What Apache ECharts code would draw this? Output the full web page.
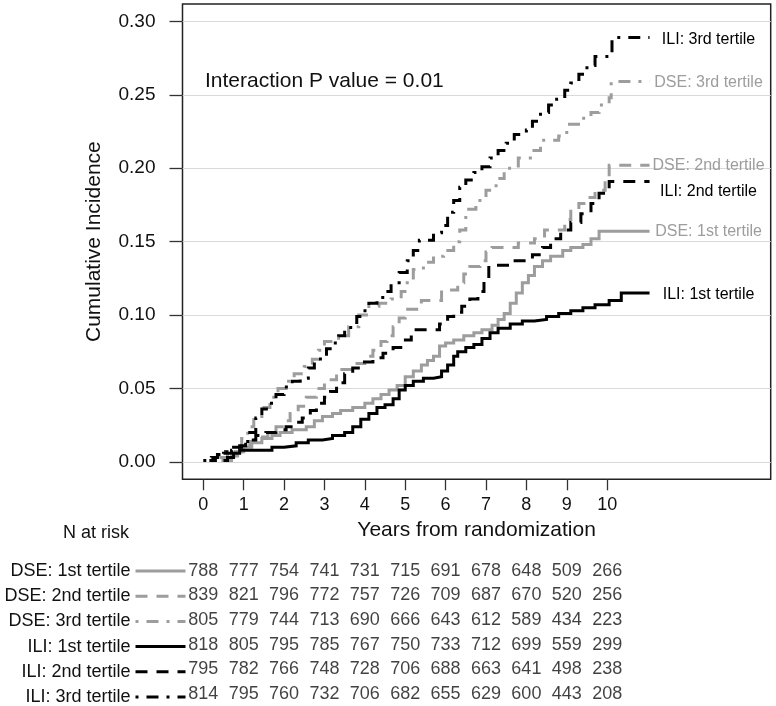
<!DOCTYPE html>
<html>
<head>
<meta charset="utf-8">
<script src="https://cdn.jsdelivr.net/npm/echarts@6/dist/echarts.min.js"></script>
<style>
html,body{margin:0;padding:0;background:#fff;}
#chart{width:776px;height:706px;}
</style>
</head>
<body>
<div id="chart"></div>
<script>
// ---- data ----
const seriesNames = ['DSE: 1st tertile','DSE: 2nd tertile','DSE: 3rd tertile','ILI: 1st tertile','ILI: 2nd tertile','ILI: 3rd tertile'];

const dse1T = [0.5,0.7,0.85,1.0,1.2,1.45,1.7,1.9,2.2,2.55,2.75,2.95,3.2,3.4,3.7,4.0,4.2,4.4,4.6,4.8,5.0,5.2,5.4,5.55,5.7,5.85,6.0,6.2,6.45,6.7,6.9,7.15,7.3,7.45,7.6,7.75,7.9,8.05,8.2,8.4,8.6,8.9,9.1,9.4,9.6,9.8,11.05];
const dse1V = [0.001,0.004,0.007,0.010,0.013,0.016,0.018,0.020,0.022,0.024,0.028,0.031,0.033,0.035,0.037,0.040,0.043,0.046,0.049,0.052,0.058,0.062,0.066,0.069,0.072,0.079,0.081,0.083,0.086,0.088,0.090,0.093,0.097,0.101,0.108,0.115,0.122,0.127,0.133,0.137,0.140,0.144,0.146,0.148,0.152,0.157,0.157];

const dse2T = [0.45,0.6,0.8,0.95,1.15,1.35,1.6,1.8,2.0,2.15,2.35,2.55,2.8,3.0,3.3,3.7,4.0,4.2,4.4,4.55,4.7,4.85,5.0,5.4,5.9,6.3,6.45,6.6,6.85,7.0,7.15,7.8,8.2,8.45,8.95,9.1,9.3,9.5,9.7,9.95,10.05,11.05];
const dse2V = [0.001,0.004,0.007,0.010,0.014,0.017,0.020,0.024,0.028,0.033,0.038,0.044,0.050,0.056,0.063,0.067,0.072,0.076,0.082,0.086,0.092,0.098,0.104,0.110,0.117,0.122,0.128,0.133,0.137,0.143,0.146,0.149,0.152,0.158,0.165,0.172,0.176,0.180,0.185,0.192,0.202,0.202];

const dse3T = [0.2,0.4,0.6,0.8,0.95,1.1,1.25,1.45,1.65,1.85,2.05,2.25,2.5,2.7,2.85,3.0,3.35,3.6,3.85,4.1,4.35,4.65,4.9,5.05,5.2,5.45,5.7,5.95,6.2,6.35,6.5,6.75,7.0,7.25,7.45,7.8,8.1,8.35,8.8,9.0,9.35,9.6,9.8,10.05,10.1,11.05];
const dse3V = [0.001,0.003,0.007,0.010,0.016,0.024,0.031,0.037,0.044,0.050,0.055,0.060,0.065,0.070,0.076,0.082,0.086,0.092,0.100,0.106,0.108,0.111,0.116,0.124,0.131,0.136,0.140,0.144,0.150,0.158,0.172,0.178,0.185,0.193,0.200,0.207,0.212,0.219,0.222,0.230,0.234,0.238,0.243,0.248,0.259,0.259];

const ili1T = [0.5,0.6,0.75,0.9,1.7,2.0,2.3,2.6,2.95,3.2,3.5,3.7,3.9,4.1,4.3,4.5,4.7,4.85,5.0,5.2,5.45,5.7,5.9,6.05,6.2,6.3,6.5,6.7,6.9,7.1,7.3,7.6,7.9,8.2,8.5,8.8,9.1,9.4,9.7,10.05,10.35,11.05];
const ili1V = [0.001,0.003,0.006,0.008,0.010,0.011,0.013,0.015,0.016,0.018,0.020,0.024,0.029,0.033,0.037,0.039,0.043,0.049,0.052,0.055,0.057,0.058,0.062,0.066,0.072,0.075,0.078,0.080,0.084,0.088,0.091,0.094,0.096,0.097,0.099,0.101,0.103,0.105,0.107,0.110,0.115,0.115];

const ili2T = [0.15,0.3,0.5,0.7,0.9,1.05,1.3,1.55,1.8,2.05,2.3,2.45,2.65,2.8,3.0,3.15,3.3,3.5,3.7,3.95,4.2,4.45,4.7,4.95,5.15,5.85,6.05,6.2,6.4,6.6,6.8,6.95,7.07,7.6,8.15,8.4,8.6,8.85,9.1,9.35,9.6,9.8,10.05,11.05];
const ili2V = [0.001,0.003,0.006,0.008,0.011,0.015,0.018,0.020,0.022,0.024,0.027,0.030,0.035,0.040,0.044,0.048,0.054,0.060,0.064,0.068,0.071,0.074,0.078,0.083,0.090,0.094,0.099,0.102,0.106,0.111,0.116,0.123,0.134,0.137,0.141,0.146,0.152,0.158,0.163,0.169,0.176,0.183,0.191,0.191];

const ili3T = [0.0,0.2,0.35,0.55,0.75,0.95,1.15,1.3,1.45,1.6,1.8,2.0,2.2,2.4,2.6,2.75,2.9,3.05,3.2,3.35,3.5,3.65,3.8,3.95,4.1,4.3,4.5,4.65,4.85,5.05,5.2,5.35,5.7,5.9,6.05,6.2,6.35,6.5,6.7,6.9,7.1,7.3,7.5,7.7,8.0,8.15,8.35,8.55,8.75,8.95,9.1,9.3,9.5,9.7,10.05,10.12,11.05];
const ili3V = [0.001,0.003,0.005,0.007,0.010,0.014,0.020,0.030,0.036,0.040,0.046,0.051,0.055,0.057,0.064,0.068,0.072,0.077,0.081,0.086,0.090,0.095,0.099,0.103,0.108,0.112,0.116,0.122,0.129,0.137,0.144,0.151,0.156,0.161,0.170,0.178,0.187,0.192,0.197,0.201,0.207,0.212,0.217,0.223,0.226,0.232,0.238,0.243,0.247,0.253,0.258,0.264,0.270,0.276,0.280,0.289,0.289];

const xTicks = [0,1,2,3,4,5,6,7,8,9,10];
const yTicks = [0,0.05,0.10,0.15,0.20,0.25,0.30];

// N at risk at years 0..10
const riskYears = [0,1,2,3,4,5,6,7,8,9,10];
const riskDse1 = [788,777,754,741,731,715,691,678,648,509,266];
const riskDse2 = [839,821,796,772,757,726,709,687,670,520,256];
const riskDse3 = [805,779,744,713,690,666,643,612,589,434,223];
const riskIli1 = [818,805,795,785,767,750,733,712,699,559,299];
const riskIli2 = [795,782,766,748,728,706,688,663,641,498,238];
const riskIli3 = [814,795,760,732,706,682,655,629,600,443,208];

// ---- styling ----
const FONT = 'Liberation Sans, Arial, sans-serif';
const GRAY = '#9d9d9d';
const BLACK = '#000';
const DASH = [12, 9];
const DOTDASH = [3, 8, 12, 8];

const curves = [
  {name: seriesNames[0], t: dse1T, v: dse1V, color: GRAY, type: 'solid', dy: 0},
  {name: seriesNames[1], t: dse2T, v: dse2V, color: GRAY, type: DASH, dy: 0},
  {name: seriesNames[2], t: dse3T, v: dse3V, color: GRAY, type: DOTDASH, dy: 1},
  {name: seriesNames[3], t: ili1T, v: ili1V, color: BLACK, type: 'solid', dy: 2},
  {name: seriesNames[4], t: ili2T, v: ili2V, color: BLACK, type: DASH, dy: 10},
  {name: seriesNames[5], t: ili3T, v: ili3V, color: BLACK, type: DOTDASH, dy: 2}
];
const risks = [riskDse1, riskDse2, riskDse3, riskIli1, riskIli2, riskIli3];

const X_MIN = -0.515, X_MAX = 14.05;
const Y_MIN = -0.0118, Y_MAX = 0.3118;

const series = curves.map(c => ({
  name: c.name,
  type: 'line',
  step: 'end',
  xAxisIndex: 0,
  yAxisIndex: 0,
  symbol: 'none',
  silent: true,
  data: c.t.map((x, i) => [x, c.v[i]]),
  lineStyle: {color: c.color, width: 3, type: c.type, cap: 'butt', join: 'miter'},
  itemStyle: {color: c.color},
  endLabel: {
    show: true,
    formatter: '{a}',
    color: c.color,
    fontFamily: FONT,
    fontSize: 16,
    align: 'center',
    verticalAlign: 'middle',
    distance: 0,
    offset: [59, c.dy]
  }
}));

const tableData = [];
risks.forEach((arr, r) => {
  arr.forEach((n, i) => tableData.push([riskYears[i], seriesNames[r], n]));
});

series.push({
  type: 'scatter',
  xAxisIndex: 1,
  yAxisIndex: 1,
  silent: true,
  symbolSize: 1,
  itemStyle: {color: 'rgba(0,0,0,0)'},
  data: tableData,
  label: {
    show: true,
    position: 'inside',
    formatter: p => String(p.value[2]),
    color: '#111',
    fontFamily: FONT,
    fontSize: 18
  }
});

const option = {
  animation: false,
  backgroundColor: '#fff',
  textStyle: {fontFamily: FONT},
  title: [
    {text: 'Interaction P value = 0.01', left: 205, top: 71, padding: 0,
     textStyle: {fontFamily: FONT, fontSize: 21, fontWeight: 'normal', color: '#111'}},
    {text: 'N at risk', left: 63, top: 524, padding: 0,
     textStyle: {fontFamily: FONT, fontSize: 18, fontWeight: 'normal', color: '#111'}}
  ],
  legend: {
    orient: 'vertical',
    align: 'right',
    right: 589,
    top: 562,
    padding: 0,
    itemWidth: 50,
    itemHeight: 18,
    itemGap: 7.2,
    selectedMode: false,
    data: seriesNames,
    itemStyle: {opacity: 0},
    lineStyle: {width: 3},
    textStyle: {fontFamily: FONT, fontSize: 18, lineHeight: 18, color: '#111'}
  },
  grid: [
    {left: 182.5, right: 5.3, top: 4, height: 475.3, show: true, borderColor: '#222', borderWidth: 1.5, backgroundColor: 'transparent'},
    {left: 182.5, right: 5.3, top: 558.5, height: 150}
  ],
  xAxis: [
    {
      type: 'value', gridIndex: 0, min: X_MIN, max: X_MAX,
      axisLine: {show: false, onZero: false},
      axisTick: {show: true, inside: false, length: 11, lineStyle: {color: '#333', width: 1.3}, customValues: xTicks},
      axisLabel: {show: true, customValues: xTicks, margin: 17, color: '#111', fontFamily: FONT, fontSize: 18},
      splitLine: {show: false},
      name: 'Years from randomization',
      nameLocation: 'middle',
      nameGap: 40,
      nameTextStyle: {fontFamily: FONT, fontSize: 21, color: '#111'}
    },
    {type: 'value', gridIndex: 1, min: X_MIN, max: X_MAX, show: false}
  ],
  yAxis: [
    {
      type: 'value', gridIndex: 0, min: Y_MIN, max: Y_MAX,
      axisLine: {show: false, onZero: false},
      axisTick: {show: true, inside: false, length: 13, lineStyle: {color: '#333', width: 1.3}, customValues: yTicks},
      axisLabel: {show: true, customValues: yTicks, margin: 27, color: '#111', fontFamily: FONT, fontSize: 19,
                  formatter: v => v.toFixed(2)},
      splitLine: {show: true, lineStyle: {color: '#d9d9d9', width: 1.2}},
      name: 'Cumulative Incidence',
      nameLocation: 'middle',
      nameGap: 78,
      nameTextStyle: {fontFamily: FONT, fontSize: 21, color: '#111'}
    },
    {type: 'category', gridIndex: 1, data: seriesNames, inverse: true, show: false}
  ],
  series: series
};

const chart = echarts.init(document.getElementById('chart'), null, {renderer: 'canvas'});
chart.setOption(option);
</script>
</body>
</html>
